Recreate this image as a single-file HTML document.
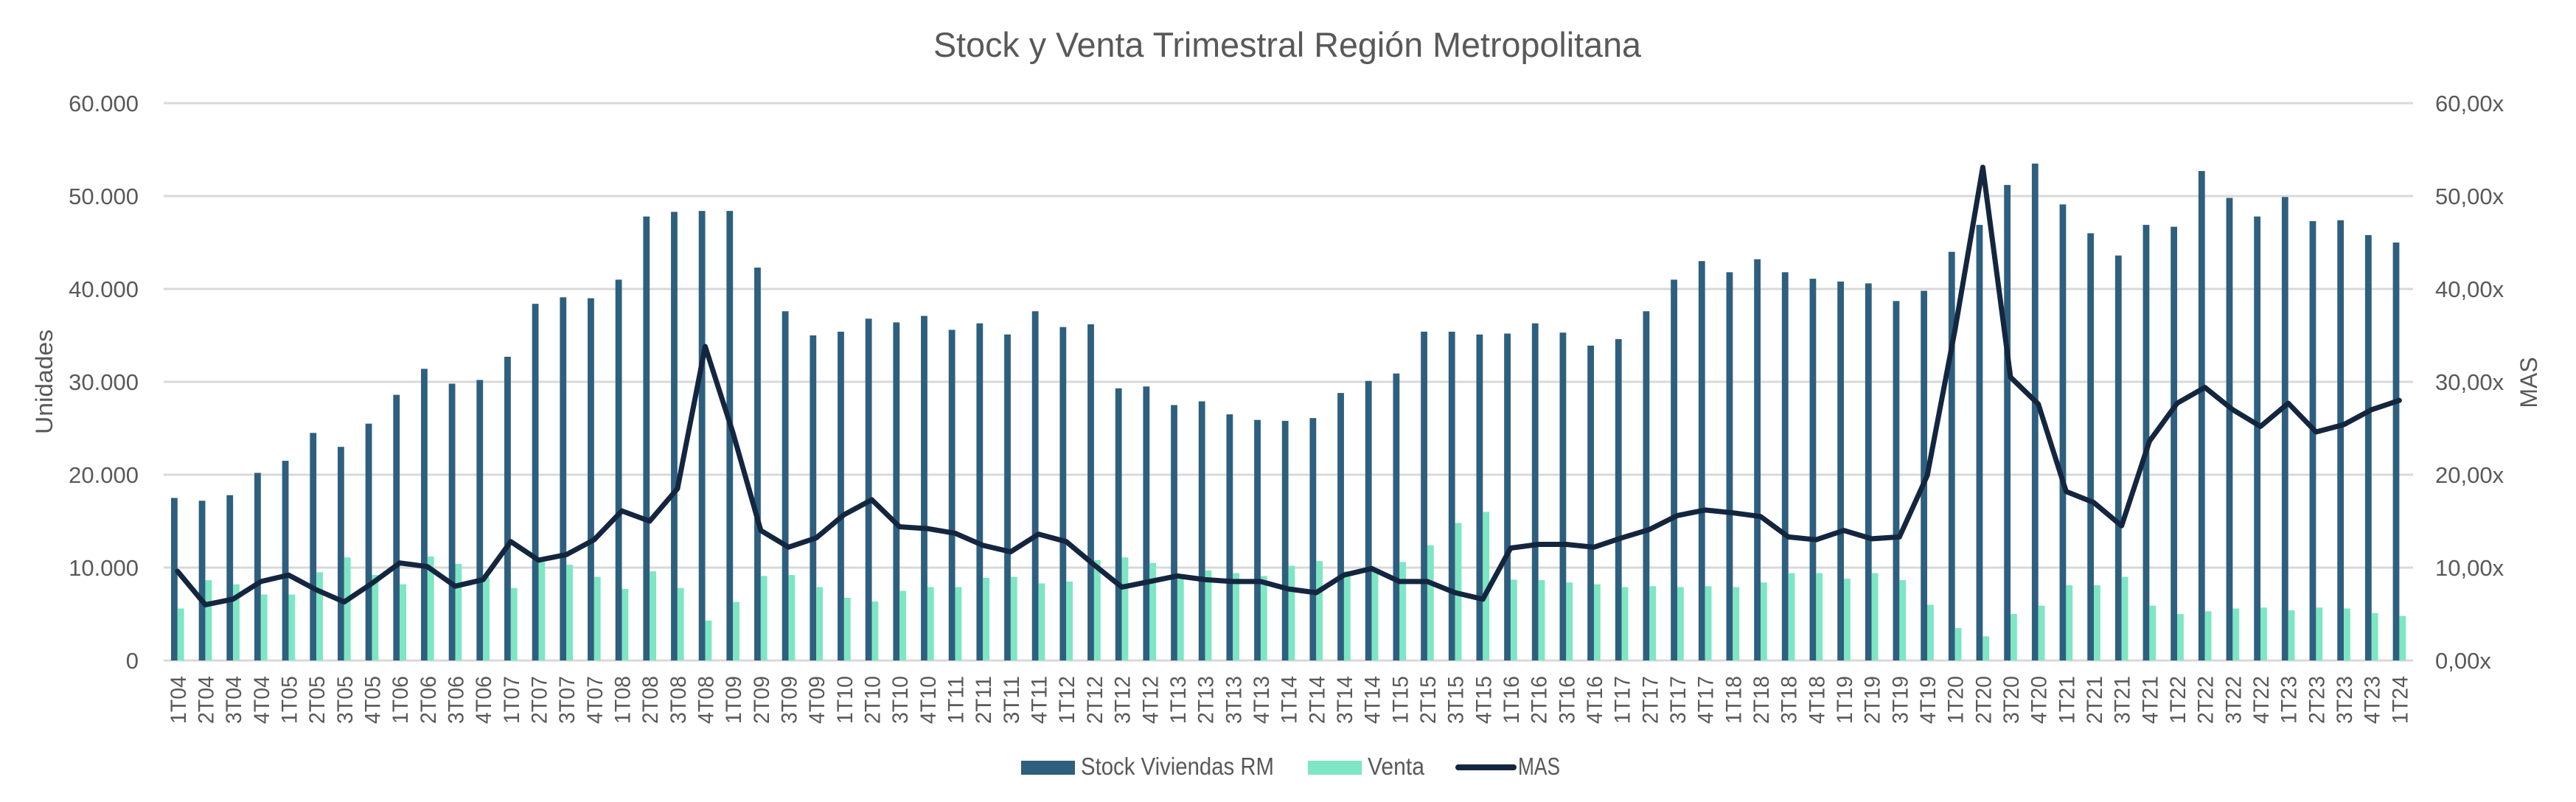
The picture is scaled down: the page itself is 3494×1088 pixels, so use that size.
<!DOCTYPE html>
<html><head><meta charset="utf-8"><style>
html,body{margin:0;padding:0;background:#fff;width:3494px;height:1088px;overflow:hidden}
svg text{font-family:"Liberation Sans",sans-serif;fill:#595959}
</style></head><body>
<svg id="s" width="3494" height="1088" viewBox="0 0 3494 1088" xmlns="http://www.w3.org/2000/svg">
<text x="1746" y="77" font-size="47" text-anchor="middle" textLength="960" lengthAdjust="spacingAndGlyphs">Stock y Venta Trimestral Región Metropolitana</text>
<g id="grid" stroke="#d9d9d9" stroke-width="3"></g>
<g font-size="31" text-anchor="end">
<text x="188" y="151">60.000</text><text x="188" y="277">50.000</text><text x="188" y="403">40.000</text><text x="188" y="529">30.000</text><text x="188" y="655">20.000</text><text x="188" y="781">10.000</text><text x="188" y="907">0</text>
</g>
<g font-size="31" text-anchor="start">
<text x="3303" y="151">60,00x</text><text x="3303" y="277">50,00x</text><text x="3303" y="403">40,00x</text><text x="3303" y="529">30,00x</text><text x="3303" y="655">20,00x</text><text x="3303" y="781">10,00x</text><text x="3303" y="907">0,00x</text>
</g>
<text transform="translate(71,518) rotate(-90)" font-size="32" text-anchor="middle" textLength="142" lengthAdjust="spacingAndGlyphs">Unidades</text>
<text transform="translate(3441,519) rotate(-90)" font-size="32" text-anchor="middle">MAS</text>
<g id="bars"></g>
<polyline id="mas" fill="none" stroke="#14263f" stroke-width="7" stroke-linejoin="round" stroke-linecap="round"/>
<g id="xl" font-size="30" text-anchor="end">
<text>1T04</text><text>2T04</text><text>3T04</text><text>4T04</text><text>1T05</text><text>2T05</text><text>3T05</text><text>4T05</text><text>1T06</text><text>2T06</text><text>3T06</text><text>4T06</text><text>1T07</text><text>2T07</text><text>3T07</text><text>4T07</text><text>1T08</text><text>2T08</text><text>3T08</text><text>4T08</text><text>1T09</text><text>2T09</text><text>3T09</text><text>4T09</text><text>1T10</text><text>2T10</text><text>3T10</text><text>4T10</text><text>1T11</text><text>2T11</text><text>3T11</text><text>4T11</text><text>1T12</text><text>2T12</text><text>3T12</text><text>4T12</text><text>1T13</text><text>2T13</text><text>3T13</text><text>4T13</text><text>1T14</text><text>2T14</text><text>3T14</text><text>4T14</text><text>1T15</text><text>2T15</text><text>3T15</text><text>4T15</text><text>1T16</text><text>2T16</text><text>3T16</text><text>4T16</text><text>1T17</text><text>2T17</text><text>3T17</text><text>4T17</text><text>1T18</text><text>2T18</text><text>3T18</text><text>4T18</text><text>1T19</text><text>2T19</text><text>3T19</text><text>4T19</text><text>1T20</text><text>2T20</text><text>3T20</text><text>4T20</text><text>1T21</text><text>2T21</text><text>3T21</text><text>4T21</text><text>1T22</text><text>2T22</text><text>3T22</text><text>4T22</text><text>1T23</text><text>2T23</text><text>3T23</text><text>4T23</text><text>1T24</text>
</g>
<rect x="1385" y="1032" width="73" height="19" fill="#2e5f7e"/>
<text x="1466" y="1051" font-size="33" textLength="262" lengthAdjust="spacingAndGlyphs">Stock Viviendas RM</text>
<rect x="1774" y="1032" width="73" height="19" fill="#7ee6c3"/>
<text x="1855" y="1051" font-size="33" textLength="77" lengthAdjust="spacingAndGlyphs">Venta</text>
<line x1="1978" y1="1041" x2="2053" y2="1041" stroke="#14263f" stroke-width="8" stroke-linecap="round"/>
<text x="2059" y="1051" font-size="33" textLength="57" lengthAdjust="spacingAndGlyphs">MAS</text>
</svg>
<script>
var NS="http://www.w3.org/2000/svg";
var stock=[17.5,17.2,17.8,20.2,21.5,24.5,23.0,25.5,28.6,31.4,29.8,30.2,32.7,38.4,39.1,39.0,41.0,47.8,48.3,48.4,48.4,42.3,37.6,35.0,35.4,36.8,36.4,37.1,35.6,36.3,35.1,37.6,35.9,36.2,29.3,29.5,27.5,27.9,26.5,25.9,25.8,26.1,28.8,30.1,30.9,35.4,35.4,35.1,35.2,36.3,35.3,33.9,34.6,37.6,41.0,43.0,41.8,43.2,41.8,41.1,40.8,40.6,38.7,39.8,44.0,46.9,51.2,53.5,49.1,46.0,43.6,46.9,46.7,52.7,49.8,47.8,49.9,47.3,47.4,45.8,45.0];
var venta=[5.6,8.65,8.2,7.1,7.1,9.5,11.1,9.2,8.2,11.2,10.4,9.0,7.8,10.6,10.3,9.0,7.7,9.6,7.8,4.3,6.3,9.1,9.2,7.9,6.75,6.35,7.5,7.9,7.9,8.9,9.0,8.3,8.5,10.8,11.1,10.5,9.0,9.7,9.4,9.1,10.2,10.7,9.6,9.7,10.6,12.4,14.8,16.0,8.7,8.65,8.4,8.2,7.9,8.0,7.9,8.0,7.9,8.4,9.4,9.4,8.8,9.4,8.65,6.0,3.5,2.6,5.0,5.9,8.1,8.1,9.0,5.9,5.0,5.3,5.6,5.7,5.4,5.7,5.6,5.1,4.8];
var mas=[9.6,6.0,6.6,8.5,9.2,7.6,6.3,8.3,10.5,10.1,8.0,8.7,12.8,10.8,11.4,13.0,16.1,15.0,18.5,33.8,24.5,14.0,12.2,13.2,15.7,17.3,14.4,14.2,13.7,12.4,11.7,13.6,12.8,10.3,7.9,8.5,9.1,8.7,8.5,8.5,7.7,7.3,9.2,9.9,8.5,8.5,7.3,6.6,12.1,12.5,12.5,12.2,13.2,14.1,15.6,16.2,15.9,15.5,13.3,13.0,14.0,13.1,13.3,19.9,35.6,53.1,30.5,27.6,18.2,17.0,14.5,23.6,27.7,29.4,27.0,25.2,27.7,24.6,25.4,27.0,28.0];
function Y(v){return 896-v*12.6;}
function cx(i){return 240.8+37.67*i;}
var g=document.getElementById("grid");
for(var k=0;k<=6;k++){var l=document.createElementNS(NS,"line");var y=896-k*126;l.setAttribute("x1",222);l.setAttribute("x2",3273);l.setAttribute("y1",y);l.setAttribute("y2",y);g.appendChild(l);}
var b=document.getElementById("bars");
function rect(x,y,w,h,f){var r=document.createElementNS(NS,"rect");r.setAttribute("x",x);r.setAttribute("y",y);r.setAttribute("width",w);r.setAttribute("height",h);r.setAttribute("fill",f);b.appendChild(r);}
var pts=[];
for(var i=0;i<81;i++){var c=cx(i);
rect(c-8.8,Y(stock[i]),8.8,stock[i]*12.6,"#2e5f7e");
rect(c,Y(venta[i]),8.8,venta[i]*12.6,"#7ee6c3");
pts.push(c.toFixed(1)+","+Y(mas[i]).toFixed(1));}
document.getElementById("mas").setAttribute("points",pts.join(" "));
var t=document.getElementById("xl").getElementsByTagName("text");
for(var i=0;i<t.length;i++){t[i].setAttribute("transform","translate("+(cx(i)+11).toFixed(1)+",917) rotate(-90)");t[i].setAttribute("textLength","65");t[i].setAttribute("lengthAdjust","spacingAndGlyphs");}
</script>
</body></html>
